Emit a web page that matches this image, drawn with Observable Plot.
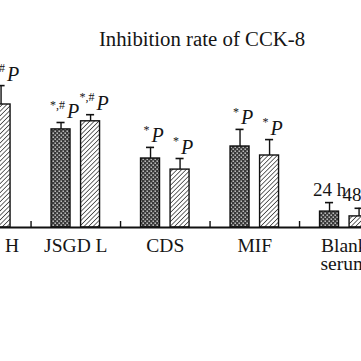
<!DOCTYPE html>
<html><head><meta charset="utf-8">
<script src="https://cdn.jsdelivr.net/npm/d3@7"></script>
<script src="https://cdn.jsdelivr.net/npm/@observablehq/plot@0.6"></script>
<style>
html,body{margin:0;padding:0;background:#fff;overflow:hidden;width:361px;height:361px}
#title{font-family:"Liberation Serif",serif;font-size:20.8px;line-height:26px;height:52px;box-sizing:border-box;padding-top:25.7px;padding-left:43px;text-align:center;color:#151515;white-space:nowrap}
</style></head><body>
<div id="title">Inhibition rate of CCK-8</div>
<div id="chart"></div>
<script>
// ---- data (y-axis is cropped out, units estimated) ----
const groups = ["JSGD H", "JSGD L", "CDS", "MIF", "Blank\nserum"];
const times = ["24 h", "48 h"];
const values24 = [44.0, 32.7, 23.0, 27.0, 5.3];
const values48 = [41.0, 35.4, 19.3, 24.0, 3.7];
const errors24 = [5.0, 2.3, 3.7, 5.7, 3.0];
const errors48 = [6.3, 2.2, 3.7, 5.3, 2.7];
const signif24 = ["*,#", "*,#", "*", "*", ""];
const signif48 = ["*,#", "*,#", "*", "*", ""];
const yDomain = [0, 60];

// ---- layout constants ----
const barOffset = 0.165, barHalf = 0.106, capHalf = 0.045;
const rows = [];
groups.forEach((g, i) => {
  [[values24, errors24, signif24], [values48, errors48, signif48]].forEach(([v, e, s], t) => {
    rows.push({i, group: g, time: times[t], t, x: i + (t === 0 ? -barOffset : barOffset),
      value: v[i], err: e[i], top: v[i] + e[i], sig: s[i], blank: i === groups.length - 1});
  });
});
const r24 = rows.filter(d => d.t === 0), r48 = rows.filter(d => d.t === 1);
const sigHash = rows.filter(d => d.sig.includes("#"));
const sigStar = rows.filter(d => d.sig && !d.sig.includes("#"));
const blankRows = rows.filter(d => d.blank);
const tickPos = d3.range(groups.length - 1).map(i => i + 0.5);

const NS = "http://www.w3.org/2000/svg";
function defs() {
  const d = document.createElementNS(NS, "defs");
  d.innerHTML = `
  <pattern id="dots" width="4" height="4" patternUnits="userSpaceOnUse">
    <rect width="4" height="4" fill="#3a3a3a"/>
    <rect x="0.5" y="0.5" width="1.4" height="1.4" fill="#d8d8d8"/>
    <rect x="2.5" y="2.5" width="1.4" height="1.4" fill="#d8d8d8"/>
  </pattern>
  <pattern id="hatch" width="3.2" height="3.2" patternUnits="userSpaceOnUse" patternTransform="rotate(45)">
    <rect width="3.2" height="3.2" fill="#fff"/>
    <line x1="0" y1="0" x2="0" y2="3.2" stroke="#1a1a1a" stroke-width="1.3"/>
  </pattern>`;
  return d;
}

const chart = Plot.plot({
  width: 361, height: 309,
  marginLeft: 0, marginRight: 0, marginTop: 0, marginBottom: 0,
  x: {type: "linear", domain: [0, 4], range: [-14.2, 343.8], axis: null},
  y: {domain: yDomain, range: [175, -5], axis: null},
  style: {fontFamily: "Liberation Serif, serif", color: "#151515", background: "#fff"},
  marks: [
    defs,
    Plot.rectY(r24, {x1: d => d.x - barHalf, x2: d => d.x + barHalf, y: "value", fill: "url(#dots)", stroke: "#111", strokeWidth: 1.4}),
    Plot.rectY(r48, {x1: d => d.x - barHalf, x2: d => d.x + barHalf, y: "value", fill: "url(#hatch)", stroke: "#111", strokeWidth: 1.4}),
    Plot.ruleX(rows, {x: "x", y1: "value", y2: "top", stroke: "#111", strokeWidth: 1.4}),
    Plot.ruleY(rows, {y: "top", x1: d => d.x - capHalf, x2: d => d.x + capHalf, stroke: "#111", strokeWidth: 1.6}),
    Plot.ruleY([0], {stroke: "#111", strokeWidth: 2}),
    Plot.ruleX(tickPos, {x: d => d, y1: 0, y2: 2, stroke: "#111", strokeWidth: 1.4}),
    Plot.text(groups, {x: (d, i) => i, y: 0, text: d => d, lineAnchor: "top", dy: 11, fontSize: 19.5, lineHeight: 0.95}),
    Plot.text(sigHash, {x: "x", y: "top", text: () => "P", textAnchor: "start", lineAnchor: "bottom", dx: 6, dy: -5, fontSize: 20, fontStyle: "italic"}),
    Plot.text(sigHash, {x: "x", y: "top", text: "sig", textAnchor: "end", lineAnchor: "bottom", dx: 4, dy: -13.5, fontSize: 12}),
    Plot.text(sigStar, {x: "x", y: "top", text: () => "P", textAnchor: "start", lineAnchor: "bottom", dx: 1, dy: -5, fontSize: 20, fontStyle: "italic"}),
    Plot.text(sigStar, {x: "x", y: "top", text: "sig", textAnchor: "end", lineAnchor: "bottom", dx: -1, dy: -13.5, fontSize: 12}),
    Plot.text(blankRows, {x: "x", y: "top", text: "time", lineAnchor: "bottom", dy: -7, fontSize: 19})
  ]
});
document.getElementById("chart").appendChild(chart);
</script>
</body></html>
